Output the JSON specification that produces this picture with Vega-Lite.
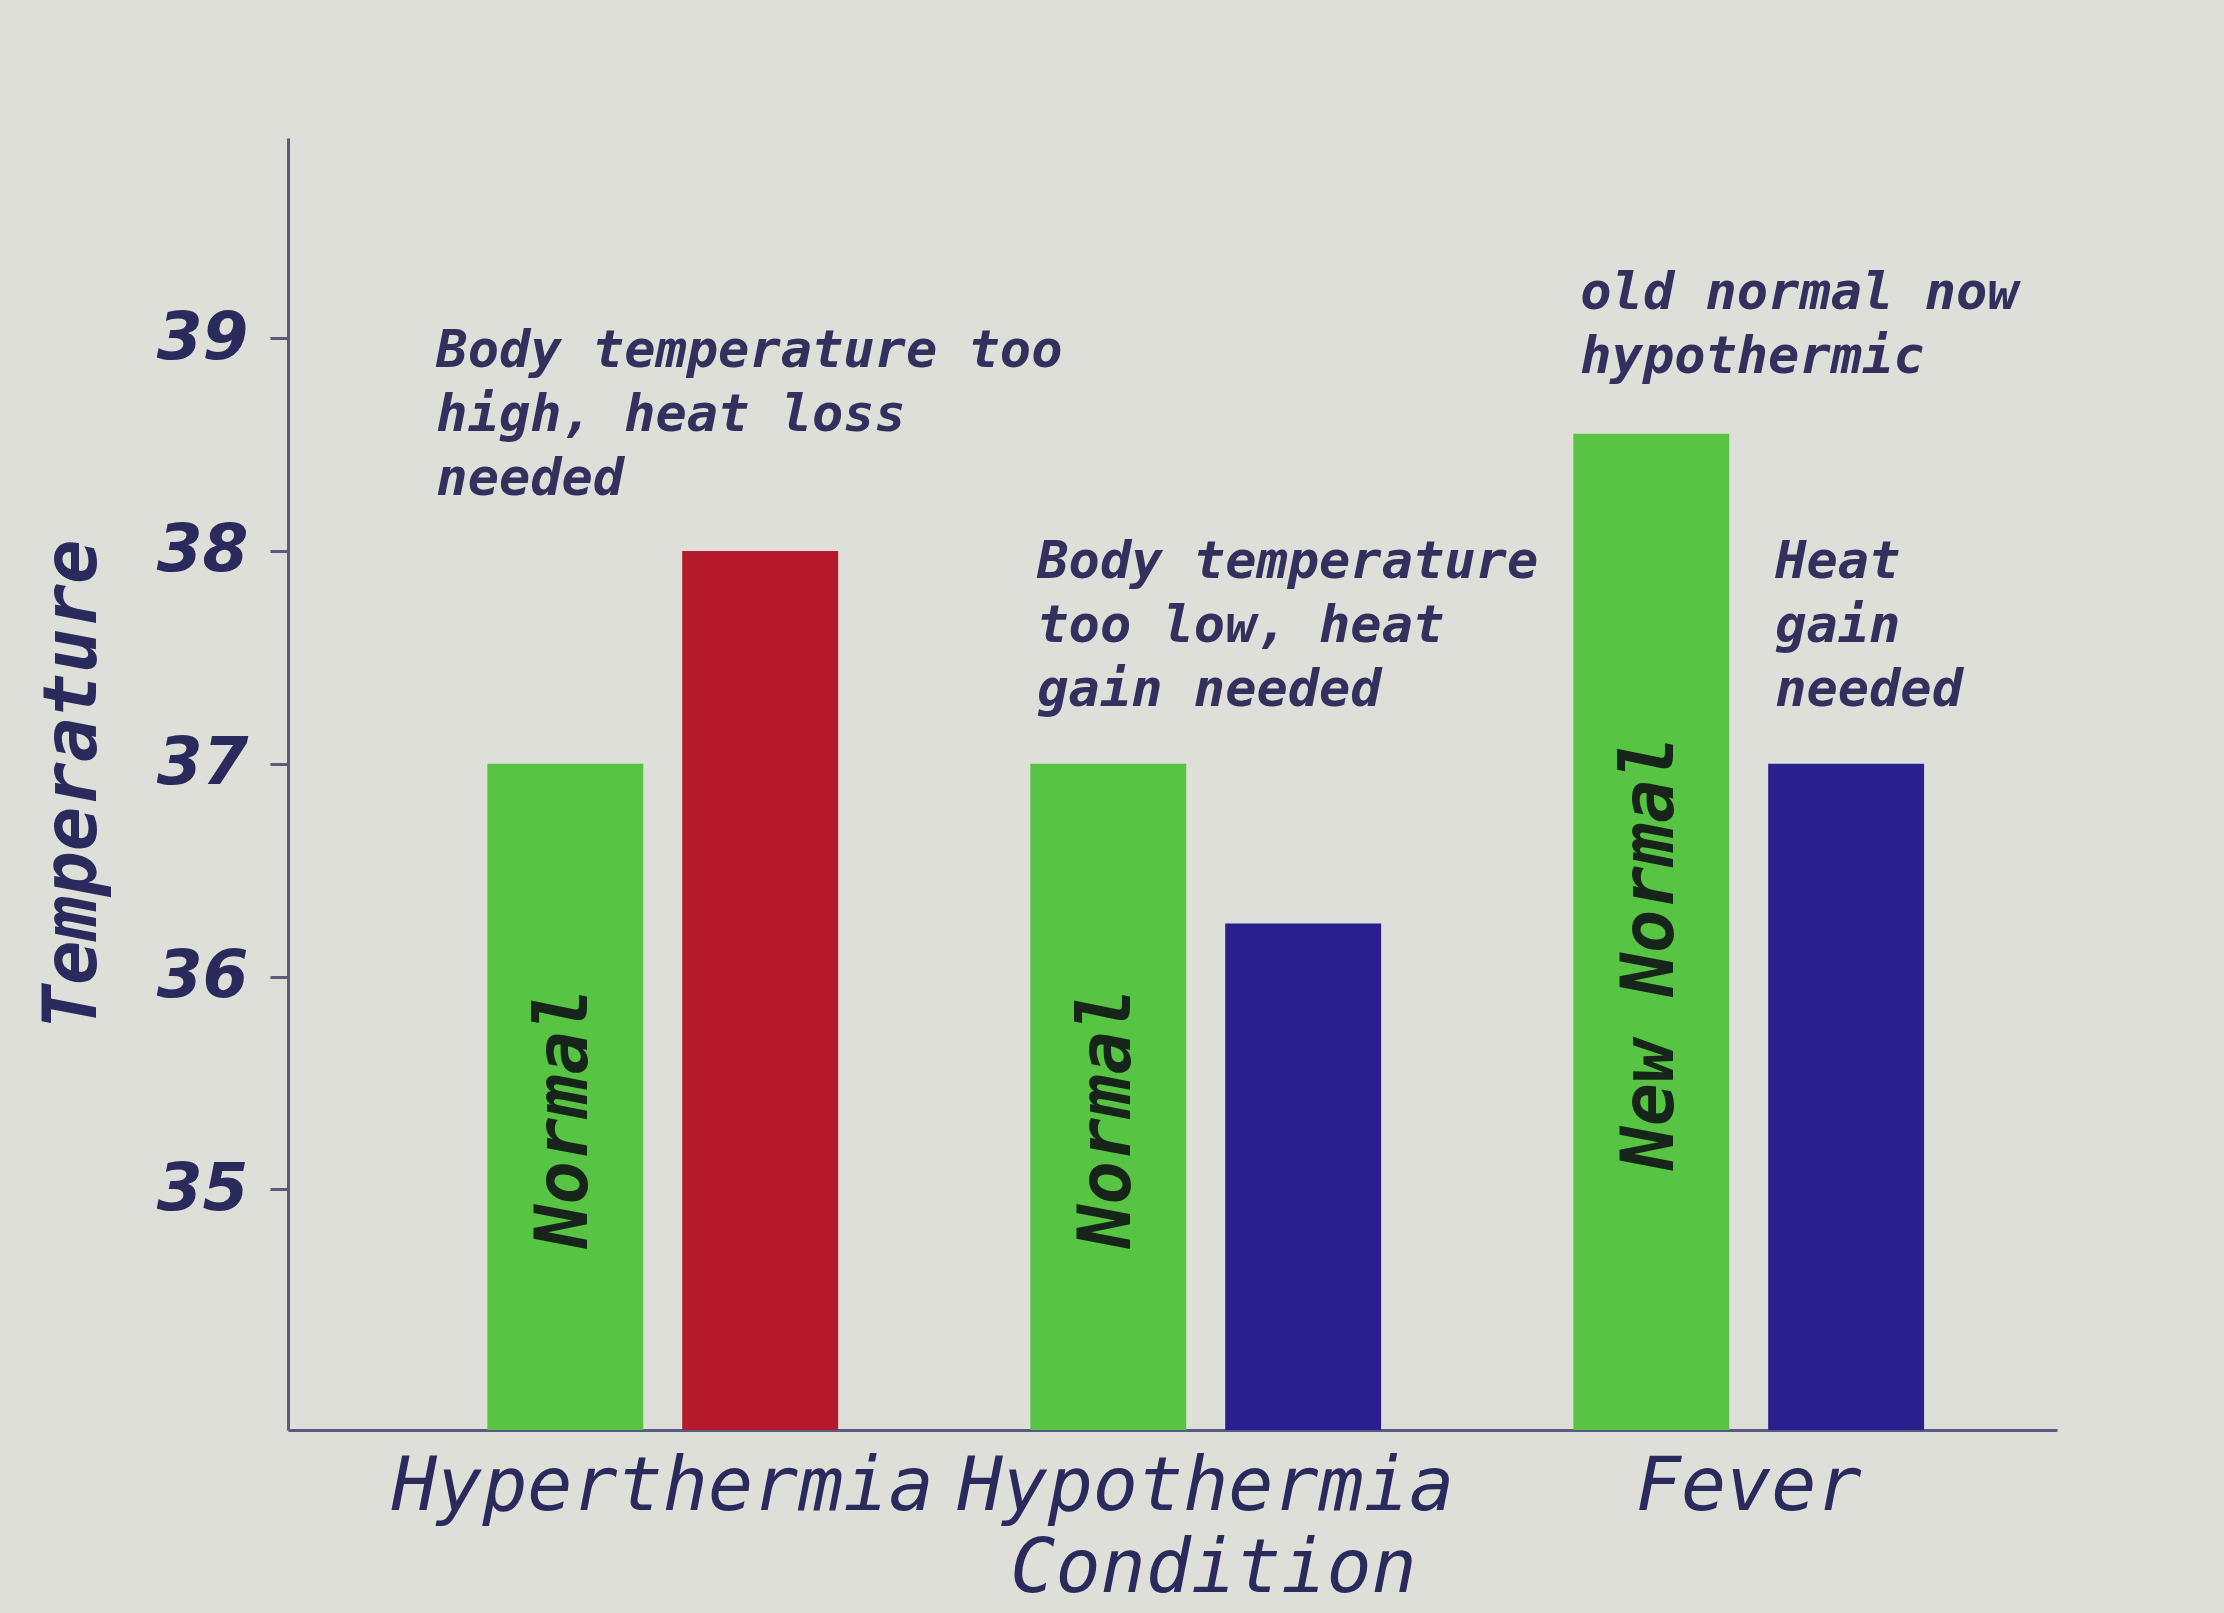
{
  "$schema": "https://vega.github.io/schema/vega-lite/v6.json",
  "width": 1769,
  "height": 1292,
  "autosize": "none",
  "padding": {"left": 288, "top": 138, "right": 167, "bottom": 183},
  "background": "#dfdfda",
  "config": {"view": {"stroke": null}},
  "datasets": {
    "bars": [
      {"condition": "Hyperthermia", "kind": "Normal", "state": "Normal", "temperature": 37.0, "label": "Normal"},
      {"condition": "Hyperthermia", "kind": "Actual", "state": "High", "temperature": 38.0, "label": ""},
      {"condition": "Hypothermia", "kind": "Normal", "state": "Normal", "temperature": 37.0, "label": "Normal"},
      {"condition": "Hypothermia", "kind": "Actual", "state": "Low", "temperature": 36.25, "label": ""},
      {"condition": "Fever", "kind": "Normal", "state": "Normal", "temperature": 38.55, "label": "New Normal"},
      {"condition": "Fever", "kind": "Actual", "state": "Low", "temperature": 37.0, "label": ""}
    ],
    "notes": [
      {"condition": "Hyperthermia", "kind": "Normal", "temperature": 38.0, "note": "Body temperature too\nhigh, heat loss\nneeded"},
      {"condition": "Hypothermia", "kind": "Normal", "temperature": 37.0, "note": "Body temperature\ntoo low, heat\ngain needed"},
      {"condition": "Fever", "kind": "Normal", "temperature": 38.55, "note": "old normal now\nhypothermic"},
      {"condition": "Fever", "kind": "Actual", "temperature": 37.0, "note": "Heat\ngain\nneeded"}
    ]
  },
  "resolve": {"scale": {"y": "independent"}},
  "layer": [
    {
      "data": {"name": "bars"},
      "mark": {"type": "bar", "clip": true},
      "encoding": {
        "x": {
          "field": "condition", "type": "nominal",
          "sort": ["Hyperthermia", "Hypothermia", "Fever"],
          "scale": {"paddingInner": 0.354, "paddingOuter": 0.306, "align": 0.6},
          "axis": {
            "title": "Condition", "titleX": 925, "labelAngle": 0, "ticks": false, "tickSize": 0,
            "labelLimit": 0, "labelOverlap": false,
            "labelPadding": 20, "labelFont": "DejaVu Sans Mono", "labelFontStyle": "italic",
            "labelFontWeight": "normal", "labelFontSize": 75, "labelColor": "#2b2a5c",
            "titleFont": "DejaVu Sans Mono", "titleFontStyle": "italic", "titleFontWeight": "normal",
            "titleFontSize": 75, "titleColor": "#2b2a5c", "titlePadding": 8,
            "domainColor": "#5a5a80", "domainWidth": 3
          }
        },
        "xOffset": {
          "field": "kind", "type": "nominal", "sort": ["Normal", "Actual"],
          "scale": {"paddingInner": 0.2, "paddingOuter": 0}
        },
        "y": {
          "field": "temperature", "type": "quantitative",
          "scale": {"domain": [33.87, 39.94], "zero": false, "nice": false},
          "axis": {
            "title": "Temperature", "values": [35, 36, 37, 38, 39], "grid": false,
            "tickSize": 18, "tickWidth": 3, "tickColor": "#5a5a80", "labelPadding": 22,
            "labelFont": "DejaVu Sans", "labelFontStyle": "italic", "labelFontWeight": "bold",
            "labelFontSize": 66, "labelColor": "#2b2a5c",
            "titleFont": "DejaVu Sans Mono", "titleFontStyle": "italic", "titleFontWeight": "bold",
            "titleFontSize": 74, "titleColor": "#2b2a5c", "titlePadding": 45,
            "domainColor": "#5a5a80", "domainWidth": 3
          }
        },
        "color": {
          "field": "state", "type": "nominal",
          "scale": {"domain": ["Normal", "High", "Low"], "range": ["#58c443", "#b41a2b", "#2b1e8e"]},
          "legend": null
        }
      }
    },
    {
      "data": {"name": "bars"},
      "mark": {
        "type": "text", "angle": -90, "align": "center", "baseline": "middle", "dx": -21,
        "font": "DejaVu Sans Mono", "fontStyle": "italic", "fontWeight": "bold",
        "fontSize": 72, "color": "#16241a"
      },
      "encoding": {
        "x": {"field": "condition", "type": "nominal", "sort": ["Hyperthermia", "Hypothermia", "Fever"]},
        "xOffset": {"field": "kind", "type": "nominal", "sort": ["Normal", "Actual"]},
        "y": {
          "field": "temperature", "type": "quantitative",
          "scale": {"domain": [33.87, 46.01], "zero": false, "nice": false},
          "axis": null
        },
        "text": {"field": "label"}
      }
    },
    {
      "data": {"name": "notes"},
      "transform": [{"filter": "datum.condition === 'Hyperthermia'"}],
      "mark": {
        "type": "text", "align": "left", "baseline": "alphabetic", "dx": -129, "dy": -184,
        "lineBreak": "\n", "lineHeight": 64,
        "font": "DejaVu Sans Mono", "fontStyle": "italic", "fontWeight": "bold",
        "fontSize": 52, "color": "#33305e"
      },
      "encoding": {
        "x": {"field": "condition", "type": "nominal", "sort": ["Hyperthermia", "Hypothermia", "Fever"]},
        "xOffset": {"field": "kind", "type": "nominal", "sort": ["Normal", "Actual"]},
        "y": {
          "field": "temperature", "type": "quantitative",
          "scale": {"domain": [33.87, 39.94], "zero": false, "nice": false},
          "axis": null
        },
        "text": {"field": "note"}
      }
    },
    {
      "data": {"name": "notes"},
      "transform": [{"filter": "datum.condition === 'Fever' && datum.kind === 'Normal'"}],
      "mark": {
        "type": "text", "align": "left", "baseline": "alphabetic", "dx": -71, "dy": -125,
        "lineBreak": "\n", "lineHeight": 64,
        "font": "DejaVu Sans Mono", "fontStyle": "italic", "fontWeight": "bold",
        "fontSize": 52, "color": "#33305e"
      },
      "encoding": {
        "x": {"field": "condition", "type": "nominal", "sort": ["Hyperthermia", "Hypothermia", "Fever"]},
        "xOffset": {"field": "kind", "type": "nominal", "sort": ["Normal", "Actual"]},
        "y": {
          "field": "temperature", "type": "quantitative",
          "scale": {"domain": [33.87, 39.94], "zero": false, "nice": false},
          "axis": null
        },
        "text": {"field": "note"}
      }
    },
    {
      "data": {"name": "notes"},
      "transform": [{"filter": "datum.condition !== 'Hyperthermia' && !(datum.condition === 'Fever' && datum.kind === 'Normal')"}],
      "mark": {
        "type": "text", "align": "left", "baseline": "alphabetic", "dx": -71, "dy": -186,
        "lineBreak": "\n", "lineHeight": 64,
        "font": "DejaVu Sans Mono", "fontStyle": "italic", "fontWeight": "bold",
        "fontSize": 52, "color": "#33305e"
      },
      "encoding": {
        "x": {"field": "condition", "type": "nominal", "sort": ["Hyperthermia", "Hypothermia", "Fever"]},
        "xOffset": {"field": "kind", "type": "nominal", "sort": ["Normal", "Actual"]},
        "y": {
          "field": "temperature", "type": "quantitative",
          "scale": {"domain": [33.87, 39.94], "zero": false, "nice": false},
          "axis": null
        },
        "text": {"field": "note"}
      }
    }
  ]
}
